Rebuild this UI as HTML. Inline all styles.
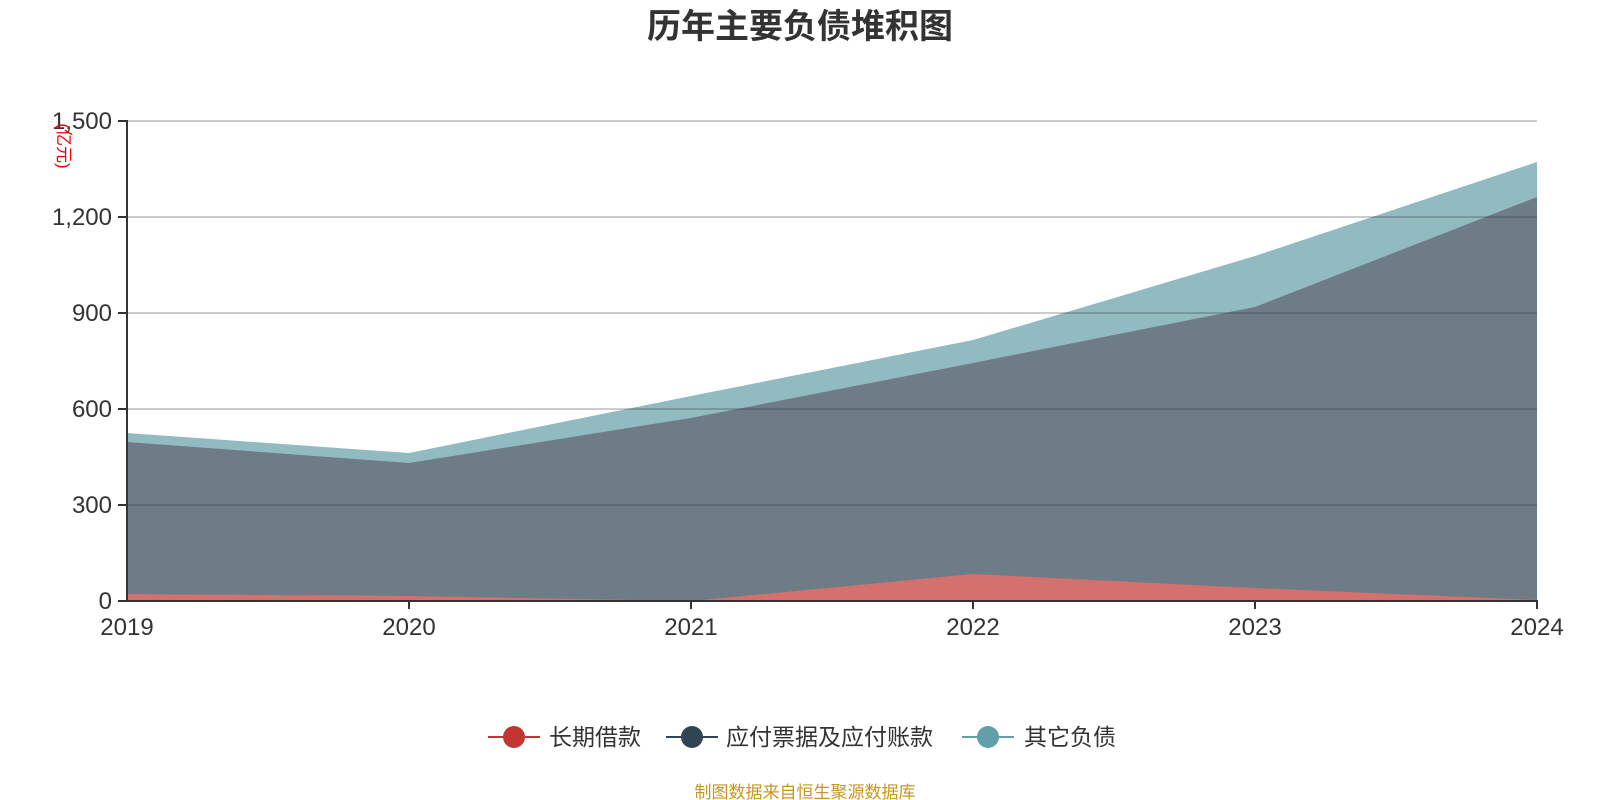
<!DOCTYPE html>
<html><head><meta charset="utf-8"><style>
body{margin:0;background:#fff;}
svg{display:block;font-family:"Liberation Sans","Noto Sans CJK SC",sans-serif;}
</style></head><body>
<svg width="1600" height="800" viewBox="0 0 1600 800">
<text x="800" y="38" text-anchor="middle" font-size="34" font-weight="bold" fill="#333">历年主要负债堆积图</text>
<polygon points="127,433 409,453 691,396 973,340 1255,256 1537,162 1537,601 127,601" fill="#91bac1"/>
<polygon points="127,442 409,463 691,418 973,363 1255,307 1537,197 1537,601 127,601" fill="#6e7c87"/>
<polygon points="127,594 409,596 691,601 973,574 1255,588 1537,600 1537,601 127,601" fill="#d4706d"/>
<g stroke="#333" stroke-opacity="0.25" stroke-width="2">
<line x1="127" y1="121" x2="1537" y2="121"/>
<line x1="127" y1="217" x2="1537" y2="217"/>
<line x1="127" y1="313" x2="1537" y2="313"/>
<line x1="127" y1="409" x2="1537" y2="409"/>
<line x1="127" y1="505" x2="1537" y2="505"/>
</g>
<g stroke="#333" stroke-width="2">
<line x1="127" y1="120" x2="127" y2="602"/>
<line x1="126" y1="601" x2="1538" y2="601"/>
<line x1="118" y1="121" x2="127" y2="121"/>
<line x1="118" y1="217" x2="127" y2="217"/>
<line x1="118" y1="313" x2="127" y2="313"/>
<line x1="118" y1="409" x2="127" y2="409"/>
<line x1="118" y1="505" x2="127" y2="505"/>
<line x1="118" y1="601" x2="127" y2="601"/>
<line x1="409" y1="601" x2="409" y2="609"/>
<line x1="691" y1="601" x2="691" y2="609"/>
<line x1="973" y1="601" x2="973" y2="609"/>
<line x1="1255" y1="601" x2="1255" y2="609"/>
<line x1="1537" y1="601" x2="1537" y2="609"/>
</g>
<g font-size="24" fill="#333" text-anchor="end">
<text x="112" y="129">1,500</text>
<text x="112" y="225">1,200</text>
<text x="112" y="321">900</text>
<text x="112" y="417">600</text>
<text x="112" y="513">300</text>
<text x="112" y="609">0</text>
</g>
<g font-size="24" fill="#333" text-anchor="middle">
<text x="127" y="635">2019</text>
<text x="409" y="635">2020</text>
<text x="691" y="635">2021</text>
<text x="973" y="635">2022</text>
<text x="1255" y="635">2023</text>
<text x="1537" y="635">2024</text>
</g>
<text transform="translate(58,146) rotate(90)" font-size="17" fill="#e00" text-anchor="middle">(亿元)</text>
<g font-size="23" fill="#333">
<line x1="488" y1="737" x2="540" y2="737" stroke="#c23531" stroke-width="2"/>
<circle cx="514" cy="737" r="11" fill="#c23531"/>
<text x="549" y="745">长期借款</text>
<line x1="666" y1="737" x2="718" y2="737" stroke="#2f4554" stroke-width="2"/>
<circle cx="692" cy="737" r="11" fill="#2f4554"/>
<text x="726" y="745">应付票据及应付账款</text>
<line x1="962" y1="737" x2="1014" y2="737" stroke="#61a0a8" stroke-width="2"/>
<circle cx="988" cy="737" r="11" fill="#61a0a8"/>
<text x="1024" y="745">其它负债</text>
</g>
<text x="805" y="798" text-anchor="middle" font-size="17" fill="#c8961e">制图数据来自恒生聚源数据库</text>
</svg>
</body></html>
